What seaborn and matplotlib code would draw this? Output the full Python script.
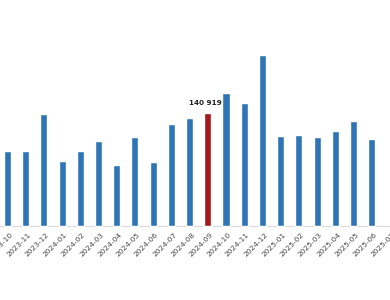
import matplotlib
matplotlib.use("Agg")
import matplotlib.pyplot as plt
import seaborn as sns
import pandas as pd

months = ["2023-10", "2023-11", "2023-12", "2024-01", "2024-02", "2024-03", "2024-04",
          "2024-05", "2024-06", "2024-07", "2024-08", "2024-09", "2024-10", "2024-11",
          "2024-12", "2025-01", "2025-02", "2025-03", "2025-04", "2025-05", "2025-06"]
values = [93900, 93900, 139300, 80700, 93900, 105600, 75700,
          111000, 79400, 127200, 134300, 140919, 165500, 153000,
          212900, 112600, 113100, 111400, 118500, 130500, 108100]
extra_ticks = ["2025-07"]
highlight = "2024-09"
highlight_label = "140 919"

sns.set_theme(style="white")
plt.rcParams['font.family'] = ['DejaVu Sans']

df = pd.DataFrame({"month": months, "value": values})
order = months + extra_ticks
blue = "#2F75B5"
red = "#A5161D"
palette = {m: (red if m == highlight else blue) for m in order}

fig = plt.figure(figsize=(3.9, 3.0), dpi=100)
ax = fig.add_axes([0, 0, 1, 1])
sns.barplot(data=df, x="month", y="value", hue="month", order=order, hue_order=order,
            palette=palette, width=0.39, legend=False, ax=ax, saturation=1)

scale = 140919 / 113.0
ax.set_xlim(-0.406, 20.7)
ax.set_ylim(-74 * scale, 226 * scale)
ax.axhline(0, color="#d9d9d9", lw=0.8, zorder=0)

for s in ax.spines.values():
    s.set_visible(False)
ax.set_yticks([])
ax.set_xlabel("")
ax.set_ylabel("")
ax.tick_params(axis="x", length=0, pad=0)
ax.set_xticks(range(len(order)))
ax.set_xticklabels([])
for i, m in enumerate(order):
    ax.annotate(m, xy=(i, 0), xytext=(1.5, -4), textcoords="offset points",
                rotation=45, ha="right", va="top", rotation_mode="anchor",
                fontsize=5.4, color="#4a4a4a", annotation_clip=False)

hi = months.index(highlight)
ax.annotate(highlight_label, xy=(hi, values[hi]), xytext=(-1.5, 5), textcoords="offset points",
            ha="center", va="bottom", fontsize=5.2, fontweight="bold", color="#222222")

fig.savefig("out.png", dpi=100)
